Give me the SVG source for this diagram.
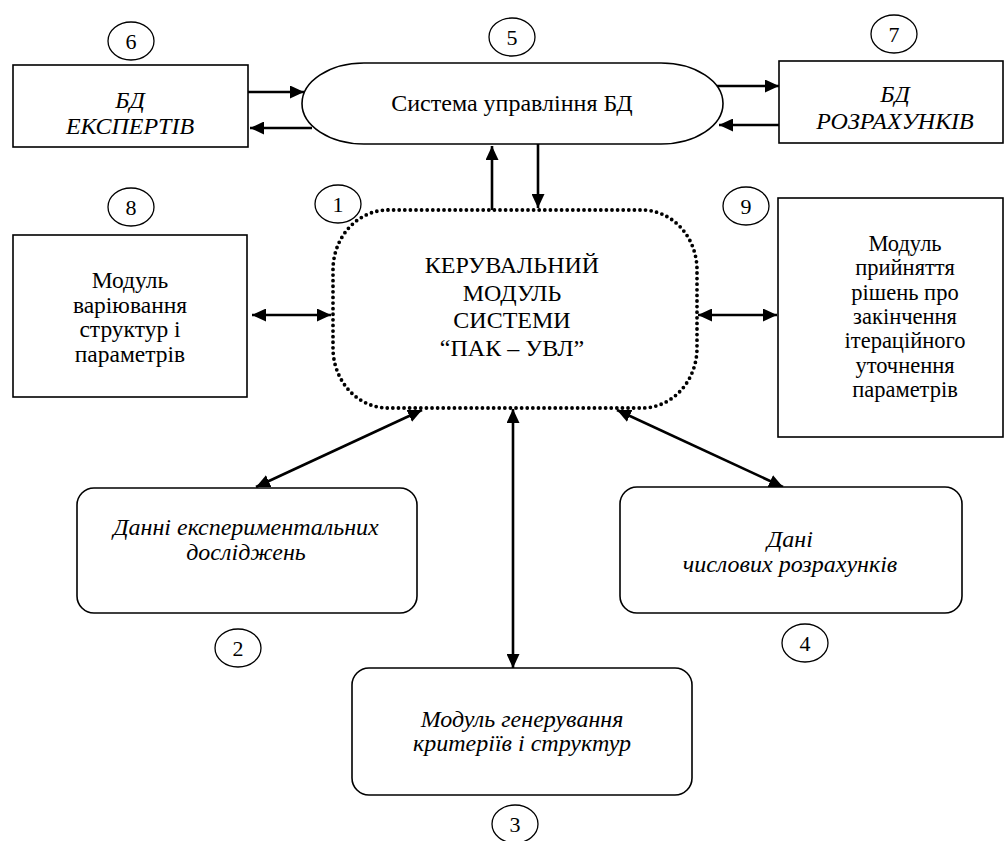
<svg xmlns="http://www.w3.org/2000/svg" width="1006" height="841" viewBox="0 0 1006 841">
<style>
text{font-family:"Liberation Serif","Times New Roman",serif;font-size:24px;fill:#000;text-anchor:middle}
.it{font-style:italic}
.sm{font-size:23.5px}
.xs{font-size:22.5px}
.box{fill:#fff;stroke:#000;stroke-width:1.6}
.num{fill:#fff;stroke:#000;stroke-width:1.3}
.dot{fill:#fff;stroke:#000;stroke-width:3.8;stroke-linecap:round;stroke-dasharray:0 5.6}
.ln{fill:none;stroke:#000;stroke-width:2.6}
.nt{font-size:22px}
</style>
<defs>
<marker id="ah" markerUnits="userSpaceOnUse" markerWidth="15" markerHeight="13" refX="14" refY="6.5" orient="auto-start-reverse">
<path d="M0,0 L14,6.5 L0,13 z" fill="#000"/>
</marker>
</defs>
<rect width="1006" height="841" fill="#fff"/>

<g id="connectors">
<line class="ln" x1="248" y1="92" x2="304" y2="92" marker-end="url(#ah)"/>
<line class="ln" x1="312" y1="128" x2="250" y2="128" marker-end="url(#ah)"/>
<line class="ln" x1="717" y1="86" x2="779" y2="86" marker-end="url(#ah)"/>
<line class="ln" x1="779" y1="125" x2="719" y2="125" marker-end="url(#ah)"/>
<line class="ln" x1="492" y1="210" x2="492" y2="146" marker-end="url(#ah)"/>
<line class="ln" x1="538" y1="144" x2="538" y2="208" marker-end="url(#ah)"/>
<line class="ln" x1="252" y1="315" x2="331" y2="315" marker-start="url(#ah)" marker-end="url(#ah)"/>
<line class="ln" x1="698" y1="315" x2="777" y2="315" marker-start="url(#ah)" marker-end="url(#ah)"/>
<line class="ln" x1="422" y1="410" x2="256" y2="487" marker-start="url(#ah)" marker-end="url(#ah)"/>
<line class="ln" x1="513" y1="409" x2="513" y2="668" marker-start="url(#ah)" marker-end="url(#ah)"/>
<line class="ln" x1="617" y1="410" x2="783" y2="487" marker-start="url(#ah)" marker-end="url(#ah)"/>
</g>

<g id="node5">
<rect class="box" x="302" y="63" width="421" height="81" rx="62" ry="40.5"/>
<text x="512" y="111">Система управління БД</text>
<ellipse class="num" cx="512" cy="37" rx="23" ry="19"/>
<text class="nt" x="512" y="45">5</text>
</g>

<g id="node6">
<rect class="box" x="13" y="65" width="235" height="82"/>
<text class="it" x="130" y="108">БД</text>
<text class="it" x="130" y="134">ЕКСПЕРТІВ</text>
<ellipse class="num" cx="131" cy="41" rx="23" ry="19"/>
<text class="nt" x="131" y="49">6</text>
</g>

<g id="node7">
<rect class="box" x="779" y="61" width="224" height="82"/>
<text class="it" x="895" y="102">БД</text>
<text class="it" x="895" y="129">РОЗРАХУНКІВ</text>
<ellipse class="num" cx="894" cy="34" rx="23" ry="19"/>
<text class="nt" x="894" y="42">7</text>
</g>

<g id="node1">
<rect class="dot" x="333" y="210" width="364" height="198" rx="55" ry="60"/>
<text x="512" y="273">КЕРУВАЛЬНИЙ</text>
<text x="512" y="301">МОДУЛЬ</text>
<text x="512" y="328">СИСТЕМИ</text>
<text x="512" y="356">“ПАК – УВЛ”</text>
<ellipse class="num" cx="338" cy="204" rx="23" ry="19"/>
<text class="nt" x="338" y="212">1</text>
</g>

<g id="node8">
<rect class="box" x="13" y="235" width="234" height="162"/>
<text class="sm" x="130" y="288">Модуль</text>
<text class="sm" x="130" y="312.5">варіювання</text>
<text class="sm" x="130" y="337">структур і</text>
<text class="sm" x="130" y="361.5">параметрів</text>
<ellipse class="num" cx="131" cy="207" rx="23" ry="19"/>
<text class="nt" x="131" y="215">8</text>
</g>

<g id="node9">
<rect class="box" x="778" y="198" width="225" height="239"/>
<text class="xs" x="905" y="251">Модуль</text>
<text class="xs" x="905" y="275.3">прийняття</text>
<text class="xs" x="905" y="299.6">рішень про</text>
<text class="xs" x="905" y="323.9">закінчення</text>
<text class="xs" x="905" y="348.2">ітераційного</text>
<text class="xs" x="905" y="372.5">уточнення</text>
<text class="xs" x="905" y="396.8">параметрів</text>
<ellipse class="num" cx="746" cy="206" rx="23" ry="19"/>
<text class="nt" x="746" y="214">9</text>
</g>

<g id="node2">
<rect class="box" x="77" y="488" width="340" height="125" rx="17" ry="17"/>
<text class="it" x="246" y="535">Данні експериментальних</text>
<text class="it" x="246" y="560">досліджень</text>
<ellipse class="num" cx="238" cy="648" rx="23" ry="19"/>
<text class="nt" x="238" y="656">2</text>
</g>

<g id="node4">
<rect class="box" x="620" y="487" width="342" height="126" rx="17" ry="17"/>
<text class="it" x="790" y="547">Дані</text>
<text class="it" x="790" y="572">числових розрахунків</text>
<ellipse class="num" cx="805" cy="643" rx="23" ry="19"/>
<text class="nt" x="805" y="651">4</text>
</g>

<g id="node3">
<rect class="box" x="352" y="668" width="340" height="127" rx="17" ry="17"/>
<text class="it" x="522" y="727">Модуль генерування</text>
<text class="it" x="522" y="751">критеріїв і структур</text>
<ellipse class="num" cx="515" cy="824" rx="23" ry="19"/>
<text class="nt" x="515" y="832">3</text>
</g>
</svg>
